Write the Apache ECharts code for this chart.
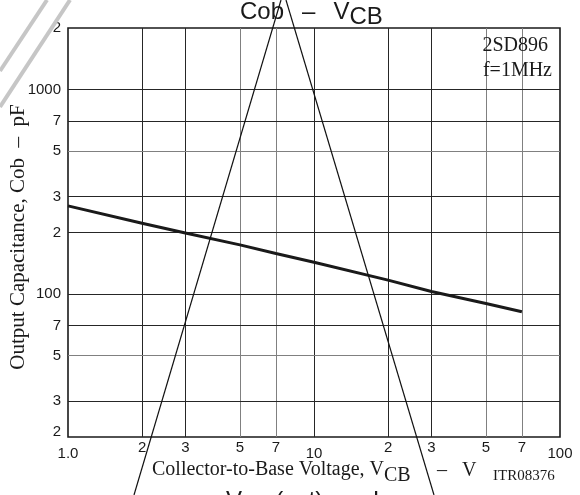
<!DOCTYPE html>
<html>
<head>
<meta charset="utf-8">
<title>Cob – VCB</title>
<script src="https://cdn.jsdelivr.net/npm/echarts@6/dist/echarts.min.js"></script>
<style>
  html, body { margin: 0; padding: 0; background: #fff; }
  #chart { width: 580px; height: 495px; }
</style>
</head>
<body>
<div id="chart"></div>
<script>
// Output capacitance vs collector-to-base voltage (2SD896, f = 1 MHz)
const vcb = [1, 2, 3, 5, 7, 10, 20, 30, 50, 70];           // V
const cob = [270, 222, 199, 174, 158, 143, 117, 103, 90, 82]; // pF

// Tick positions and the text printed at each
const xTicks = [1, 2, 3, 5, 7, 10, 20, 30, 50, 70, 100];
const xTickText = ['1.0', '2', '3', '5', '7', '10', '2', '3', '5', '7', '100'];
const yTicks = [20, 30, 50, 70, 100, 200, 300, 500, 700, 1000, 2000];
const yTickText = ['2', '3', '5', '7', '100', '2', '3', '5', '7', '1000', '2'];

// Interior grid lines; the lighter ones are listed separately
const xGrid = [2, 3, 5, 7, 10, 20, 30, 50, 70];
const xGridLight = [5, 7, 50, 70];
const yGrid = [30, 50, 70, 100, 200, 300, 500, 700, 1000];
const yGridLight = [50, 500];

const SANS = "'Liberation Sans', Arial, Helvetica, sans-serif";
const SERIF = "'Liberation Serif', 'Times New Roman', serif";
const INK = '#1a1a1a';

function lookup(ticks, v) {
  for (let i = 0; i < ticks.length; i++) {
    if (Math.abs(ticks[i] - v) / ticks[i] < 1e-6) return i;
  }
  return -1;
}

const gridLines = []
  .concat(xGrid.map(v => ({
    xAxis: v,
    lineStyle: { color: xGridLight.includes(v) ? '#808080' : '#262626', width: 1, type: 'solid' }
  })))
  .concat(yGrid.map(v => ({
    yAxis: v,
    lineStyle: { color: yGridLight.includes(v) ? '#808080' : '#262626', width: 1, type: 'solid' }
  })));

// Rich-text styles for the sans headings: normal run, spaced dash, lowered subscript
const headingRich = {
  n: { fontFamily: SANS, fontSize: 24, fill: INK },
  g: { fontFamily: SANS, fontSize: 24, fill: INK, padding: [0, 18, 0, 18] },
  s: { fontFamily: SANS, fontSize: 24, fill: INK, padding: [11, 0, 0, 0] }
};

const chart = echarts.init(document.getElementById('chart'), null, { renderer: 'canvas' });

chart.setOption({
  animation: false,
  backgroundColor: '#fff',
  grid: {
    left: 68, top: 28, width: 492, height: 409,
    show: true, borderColor: INK, borderWidth: 1.6, backgroundColor: 'transparent'
  },
  xAxis: {
    type: 'log', logBase: 10, min: 1, max: 100,
    axisLine: { show: false },
    axisTick: { show: false },
    splitLine: { show: false },
    axisLabel: {
      customValues: xTicks,
      margin: 3,
      color: INK,
      fontFamily: SANS,
      fontSize: 15,
      formatter: function (v) {
        const i = lookup(xTicks, v);
        if (i < 0) return '';
        const t = xTickText[i];
        const decade = (t === '1.0' || t === '10' || t === '100');
        return decade ? '{d|' + t + '}' : '{m|' + t + '}';
      },
      rich: {
        d: { fontFamily: SANS, fontSize: 15, lineHeight: 28, color: INK },
        m: { fontFamily: SANS, fontSize: 15, lineHeight: 16, color: INK }
      }
    }
  },
  yAxis: {
    type: 'log', logBase: 10, min: 20, max: 2000,
    axisLine: { show: false },
    axisTick: { show: false },
    splitLine: { show: false },
    axisLabel: {
      customValues: yTicks,
      margin: 7,
      color: INK,
      fontFamily: SANS,
      fontSize: 15,
      formatter: function (v) {
        const i = lookup(yTicks, v);
        if (i < 0) return '';
        return (i === 0 ? '{b|' : '{m|') + yTickText[i] + '}';
      },
      rich: {
        m: { fontFamily: SANS, fontSize: 15, color: INK },
        b: { fontFamily: SANS, fontSize: 15, color: INK, padding: [0, 0, 10, 0] }
      }
    }
  },
  series: [
    {
      name: 'grid',
      type: 'line',
      data: [],
      silent: true,
      markLine: {
        z: 1,
        silent: true,
        symbol: ['none', 'none'],
        label: { show: false },
        emphasis: { disabled: true },
        data: gridLines
      }
    },
    {
      name: 'Cob',
      type: 'line',
      z: 10,
      symbol: 'none',
      showSymbol: false,
      lineStyle: { color: INK, width: 3 },
      data: vcb.map((v, i) => [v, cob[i]])
    }
  ],
  graphic: [
    // stray strokes crossing the sheet
    { type: 'line', z: 50, shape: { x1: 47, y1: 0, x2: 0, y2: 71 }, style: { stroke: '#c6c6c6', lineWidth: 4 } },
    { type: 'line', z: 50, shape: { x1: 70, y1: 0, x2: 0, y2: 107 }, style: { stroke: '#c6c6c6', lineWidth: 4 } },
    { type: 'line', z: 50, shape: { x1: 281, y1: 0, x2: 134, y2: 495 }, style: { stroke: '#111', lineWidth: 1.2 } },
    { type: 'line', z: 50, shape: { x1: 286, y1: 0, x2: 434, y2: 495 }, style: { stroke: '#111', lineWidth: 1.2 } },

    // chart title
    {
      type: 'text', z: 40, x: 240, y: 12,
      style: {
        text: '{n|Cob}{g|–}{n|V}{s|CB}',
        font: '24px ' + SANS, fill: INK,
        textAlign: 'left', align: 'left', textVerticalAlign: 'middle', verticalAlign: 'middle',
        rich: headingRich
      }
    },
    // part number and test frequency
    {
      type: 'text', z: 40, x: 548, y: 46,
      style: { text: '2SD896', font: '20px ' + SERIF, fill: INK,
        textAlign: 'right', align: 'right', textVerticalAlign: 'middle', verticalAlign: 'middle' }
    },
    {
      type: 'text', z: 40, x: 552, y: 71,
      style: { text: 'f=1MHz', font: '20px ' + SERIF, fill: INK,
        textAlign: 'right', align: 'right', textVerticalAlign: 'middle', verticalAlign: 'middle' }
    },
    // y axis name
    {
      type: 'text', z: 40, x: 18, y: 237, rotation: Math.PI / 2,
      style: { text: 'Output Capacitance, Cob  –  pF', font: '21px ' + SERIF, fill: INK,
        textAlign: 'center', align: 'center', textVerticalAlign: 'middle', verticalAlign: 'middle' }
    },
    // x axis name
    {
      type: 'text', z: 40, x: 152, y: 470,
      style: {
        text: '{n|Collector-to-Base Voltage, V}{s|CB}',
        font: '20px ' + SERIF, fill: INK,
        textAlign: 'left', align: 'left', textVerticalAlign: 'middle', verticalAlign: 'middle',
        rich: {
          n: { fontFamily: SERIF, fontSize: 20, fill: INK },
          s: { fontFamily: SERIF, fontSize: 20, fill: INK, padding: [12, 0, 0, 0] }
        }
      }
    },
    {
      type: 'text', z: 40, x: 442, y: 471,
      style: { text: '–', font: '20px ' + SERIF, fill: INK,
        textAlign: 'center', align: 'center', textVerticalAlign: 'middle', verticalAlign: 'middle' }
    },
    {
      type: 'text', z: 40, x: 462, y: 471,
      style: { text: 'V', font: '20px ' + SERIF, fill: INK,
        textAlign: 'left', align: 'left', textVerticalAlign: 'middle', verticalAlign: 'middle' }
    },
    {
      type: 'text', z: 40, x: 493, y: 476,
      style: { text: 'ITR08376', font: '15px ' + SERIF, fill: INK,
        textAlign: 'left', align: 'left', textVerticalAlign: 'middle', verticalAlign: 'middle' }
    },
    // next heading, running off the bottom edge
    {
      type: 'text', z: 40, x: 226, y: 501,
      style: {
        text: '{n|V}{s|CE}{n|(sat)}{g|–}{n|I}{s|C}',
        font: '24px ' + SANS, fill: INK,
        textAlign: 'left', align: 'left', textVerticalAlign: 'middle', verticalAlign: 'middle',
        rich: headingRich
      }
    }
  ]
});
</script>
</body>
</html>
